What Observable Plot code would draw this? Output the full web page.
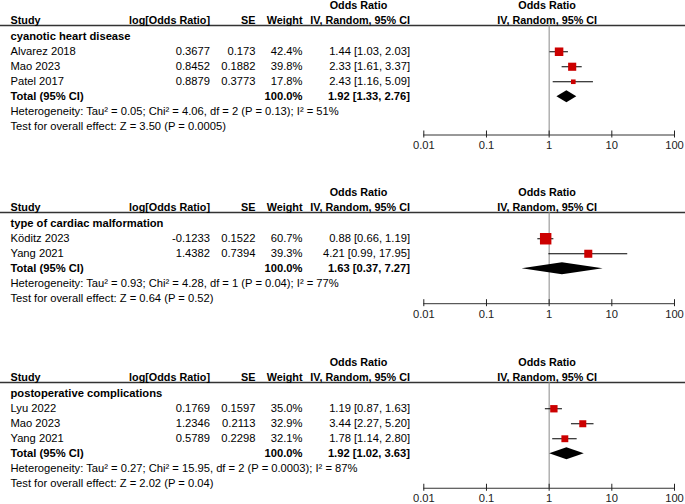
<!DOCTYPE html>
<html>
<head>
<meta charset="utf-8">
<script src="https://cdn.jsdelivr.net/npm/d3@7"></script>
<script src="https://cdn.jsdelivr.net/npm/@observablehq/plot@0.6"></script>
<style>
  body { margin: 0; background: #fff; }
  #chart { width: 685px; }
  #chart svg { display: block; }
</style>
</head>
<body>
<div id="chart"></div>
<script>
// ---------- data ----------
const groups = ["cyanotic heart disease", "type of cardiac malformation", "postoperative complications"];
const studyNames = [
  ["Alvarez 2018", "Mao 2023", "Patel 2017"],
  ["Köditz 2023", "Yang 2021"],
  ["Lyu 2022", "Mao 2023", "Yang 2021"]
];
const logOR = [[0.3677, 0.8452, 0.8879], [-0.1233, 1.4382], [0.1769, 1.2346, 0.5789]];
const seValues = [[0.173, 0.1882, 0.3773], [0.1522, 0.7394], [0.1597, 0.2113, 0.2298]];
const weights = [[42.4, 39.8, 17.8], [60.7, 39.3], [35.0, 32.9, 32.1]];
const orEst = [[1.44, 2.33, 2.43], [0.88, 4.21], [1.19, 3.44, 1.78]];
const orLow = [[1.03, 1.61, 1.16], [0.66, 0.99], [0.87, 2.27, 1.14]];
const orHigh = [[2.03, 3.37, 5.09], [1.19, 17.95], [1.63, 5.20, 2.80]];
const totalWeight = [100.0, 100.0, 100.0];
const totalOR = [1.92, 1.63, 1.92];
const totalLow = [1.33, 0.37, 1.02];
const totalHigh = [2.76, 7.27, 3.63];
const tau2 = ["0.05", "0.93", "0.27"];
const chi2 = ["4.06", "4.28", "15.95"];
const dfHet = [2, 1, 2];
const pHet = ["0.13", "0.04", "0.0003"];
const i2 = [51, 77, 87];
const zOverall = ["3.50", "0.64", "2.02"];
const pOverall = ["0.0005", "0.52", "0.04"];
const leftHeaders = ["Study", "log[Odds Ratio]", "SE", "Weight", "IV, Random, 95% CI"];
const effectHeader = ["Odds Ratio", "IV, Random, 95% CI"];
const axisTicks = [0.01, 0.1, 1, 10, 100];
const noEffect = 1;

// ---------- layout ----------
const FONT = "'Liberation Sans', Arial, Helvetica, sans-serif";
const FS = 11.2;
const HFS = 10.8;          // header font size
const ROW = 15;            // px per text row
const headerOffset = 25;   // px from panel top to header rule
const panelHeights = [187, 170, 147];
const axisGap = [2.55, 2.33, 2.3]; // rows between total row and axis
const colDx = [10, 209.5, 255, 302, 409.5];
const colAnchor = ["start", "end", "end", "end", "end"];
const RED = "#cc0000";

const fmt2 = v => v.toFixed(2);
const fmtCI = (e, l, h) => `${fmt2(e)} [${fmt2(l)}, ${fmt2(h)}]`;

const chart = document.getElementById("chart");

groups.forEach((g, p) => {
  const n = studyNames[p].length;
  const totalRow = 1.75 + n;
  const axisRow = totalRow + axisGap[p];
  const H = panelHeights[p];
  const frameBottom = headerOffset + axisRow * ROW;

  const studies = studyNames[p].map((name, i) => ({
    name, logOR: logOR[p][i], se: seValues[p][i], weight: weights[p][i],
    or: orEst[p][i], lo: orLow[p][i], hi: orHigh[p][i], row: 1.75 + i
  }));
  const total = {row: totalRow, w: totalWeight[p], or: totalOR[p], lo: totalLow[p], hi: totalHigh[p]};
  const diamond = [
    {x: total.lo, y1: totalRow, y2: totalRow},
    {x: total.or, y1: totalRow - 0.4, y2: totalRow + 0.4},
    {x: total.hi, y1: totalRow, y2: totalRow}
  ];
  const het = `Heterogeneity: Tau² = ${tau2[p]}; Chi² = ${chi2[p]}, df = ${dfHet[p]} (P = ${pHet[p]}); I² = ${i2[p]}%`;
  const test = `Test for overall effect: Z = ${zOverall[p]} (P = ${pOverall[p]})`;

  const txt = (data, opts) => Plot.text(data, {frameAnchor: "left", fontSize: FS, fill: "black", ...opts});

  const marks = [
    // header rule, line of no effect, axis line
    Plot.ruleY([0], {stroke: "#333", strokeWidth: 1.5}),
    Plot.ruleX([noEffect], {y1: 0, y2: axisRow, stroke: "#8a8a8a"}),
    Plot.ruleY([axisRow], {x1: axisTicks[0], x2: axisTicks[axisTicks.length - 1], stroke: "#333"}),
    Plot.axisX({anchor: "bottom", ticks: axisTicks, tickFormat: d => String(d), tickSize: 7, dy: -4, tickPadding: 3, fontSize: FS, color: "#222"}),
    // headers
    txt([effectHeader[0]], {y: () => -1.3, dx: 358, textAnchor: "middle", fontWeight: "bold", fontSize: HFS, text: d => d}),
    Plot.text(effectHeader, {x: () => noEffect, y: (d, i) => i === 0 ? -1.3 : -0.3, dx: -2, text: d => d, fontSize: HFS, fontWeight: "bold", fill: "black"}),
    ...leftHeaders.map((h, c) => txt([h], {y: () => -0.3, dx: colDx[c], textAnchor: colAnchor[c], fontWeight: "bold", fontSize: HFS, text: d => d})),
    // subgroup
    txt([g], {y: () => 0.7, dx: colDx[0], textAnchor: "start", fontWeight: "bold", text: d => d}),
    // study rows
    txt(studies, {y: "row", dx: colDx[0], textAnchor: "start", text: "name"}),
    txt(studies, {y: "row", dx: colDx[1], textAnchor: "end", text: d => String(d.logOR)}),
    txt(studies, {y: "row", dx: colDx[2], textAnchor: "end", text: d => String(d.se)}),
    txt(studies, {y: "row", dx: colDx[3], textAnchor: "end", text: d => d.weight.toFixed(1) + "%"}),
    txt(studies, {y: "row", dx: colDx[4], textAnchor: "end", text: d => fmtCI(d.or, d.lo, d.hi)}),
    // total row
    txt([total], {y: "row", dx: colDx[0], textAnchor: "start", fontWeight: "bold", text: () => "Total (95% CI)"}),
    txt([total], {y: "row", dx: colDx[3], textAnchor: "end", fontWeight: "bold", text: d => d.w.toFixed(1) + "%"}),
    txt([total], {y: "row", dx: colDx[4], textAnchor: "end", fontWeight: "bold", text: d => fmtCI(d.or, d.lo, d.hi)}),
    // notes
    txt([het], {y: () => totalRow + 1, dx: colDx[0], textAnchor: "start", text: d => d}),
    txt([test], {y: () => totalRow + 2, dx: colDx[0], textAnchor: "start", text: d => d}),
    // forest
    Plot.ruleY(studies, {y: "row", x1: "lo", x2: "hi", stroke: "black"}),
    Plot.dot(studies, {x: "or", y: "row", r: "weight", symbol: "square", fill: RED}),
    Plot.areaY(diamond, {x: "x", y1: "y1", y2: "y2", fill: "black"})
  ];

  const plot = Plot.plot({
    width: 685,
    height: H,
    marginTop: 0,
    marginBottom: H - frameBottom,
    marginLeft: 0,
    marginRight: 0,
    style: {fontFamily: FONT, fontSize: FS + "px", color: "black", background: "white", overflow: "visible"},
    x: {type: "log", domain: [axisTicks[0], axisTicks[axisTicks.length - 1]], range: [423.3, 674]},
    y: {domain: [-headerOffset / ROW, axisRow], range: [0, frameBottom], axis: null},
    r: {type: "linear", domain: [0, 100], range: [1.0, 10.0]},
    marks
  });
  chart.appendChild(plot);
});
</script>
</body>
</html>
